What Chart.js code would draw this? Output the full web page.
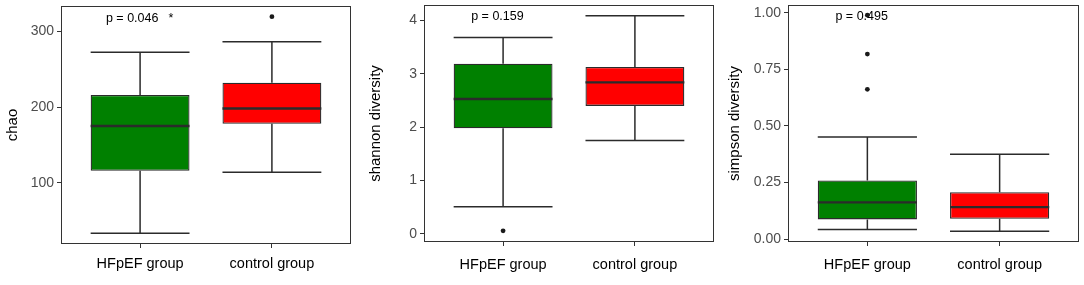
<!DOCTYPE html>
<html>
<head>
<meta charset="utf-8">
<script src="https://cdn.jsdelivr.net/npm/chart.js@4"></script>
<style>
    body { margin: 0; background: #fff; width: 1084px; height: 285px; position: relative; overflow: hidden; }
    canvas { position: absolute; top: 0; }
</style>
</head>
<body>
<canvas id="chaoChart" width="355" height="285" style="left:0px"></canvas>
<canvas id="shannonChart" width="358" height="285" style="left:360px"></canvas>
<canvas id="simpsonChart" width="364" height="285" style="left:720px"></canvas>
<script>
const groups = ['HFpEF group', 'control group'];
const boxColors = ['#008000', '#ff0000'];

// chao
const chaoMin = [34, 114];
const chaoQ1 = [116, 178];
const chaoMedian = [175, 198];
const chaoQ3 = [216, 232];
const chaoMax = [272, 286];
const chaoOutliers = [[], [319]];
const chaoTicks = [100, 200, 300];

// shannon diversity
const shannonMin = [0.51, 1.75];
const shannonQ1 = [1.98, 2.40];
const shannonMedian = [2.53, 2.84];
const shannonQ3 = [3.19, 3.13];
const shannonMax = [3.68, 4.09];
const shannonOutliers = [[0.06], []];
const shannonTicks = [0, 1, 2, 3, 4];

// simpson diversity
const simpsonMin = [0.042, 0.034];
const simpsonQ1 = [0.087, 0.090];
const simpsonMedian = [0.162, 0.141];
const simpsonQ3 = [0.259, 0.207];
const simpsonMax = [0.451, 0.375];
const simpsonOutliers = [[0.99, 0.818, 0.662], []];
const simpsonTicks = [0, 0.25, 0.5, 0.75, 1];

const groupTicks = [1, 2];
const lineColor = '#2b2b2b';

const boxPartsPlugin = {
    id: 'boxParts',
    beforeDatasetsDraw(chart, args, opts) {
        const { ctx, scales: { x, y } } = chart;
        ctx.save();
        ctx.fillStyle = '#000';
        ctx.font = '12.5px "Liberation Sans", Arial, sans-serif';
        ctx.textAlign = 'center';
        ctx.textBaseline = 'middle';
        opts.notes.forEach(n => {
            ctx.fillText(n.text, x.getPixelForValue(n.x), y.getPixelForValue(n.y));
        });
        ctx.restore();
    },
    afterDatasetsDraw(chart, args, opts) {
        const { ctx, scales: { x, y } } = chart;
        const s = opts.stats;
        ctx.save();
        ctx.strokeStyle = lineColor;
        s.median.forEach((m, i) => {
            const cx = x.getPixelForValue(i + 1);
            const x0 = x.getPixelForValue(i + 1 - 0.375);
            const x1 = x.getPixelForValue(i + 1 + 0.375);
            const yMax = y.getPixelForValue(s.max[i]);
            const yMin = y.getPixelForValue(s.min[i]);

            // whiskers
            ctx.lineWidth = 1.5;
            ctx.beginPath();
            ctx.moveTo(cx, y.getPixelForValue(s.q3[i]));
            ctx.lineTo(cx, yMax);
            ctx.moveTo(x0, yMax);
            ctx.lineTo(x1, yMax);
            ctx.moveTo(cx, y.getPixelForValue(s.q1[i]));
            ctx.lineTo(cx, yMin);
            ctx.moveTo(x0, yMin);
            ctx.lineTo(x1, yMin);
            ctx.stroke();

            // median
            ctx.lineWidth = 2.4;
            ctx.beginPath();
            ctx.moveTo(x0, y.getPixelForValue(m));
            ctx.lineTo(x1, y.getPixelForValue(m));
            ctx.stroke();
        });
        ctx.restore();
    },
    afterDraw(chart) {
        const { ctx, chartArea: a } = chart;
        ctx.save();
        ctx.strokeStyle = '#333';
        ctx.lineWidth = 1;
        ctx.strokeRect(a.left + 0.5, a.top + 0.5, a.right - a.left - 1, a.bottom - a.top - 1);
        ctx.restore();
    }
};

function makeBoxChart(canvasId, stats, lay) {
    const ctx = document.getElementById(canvasId).getContext('2d');
    const boxData = groups.map((g, i) => ({ x: i + 1, y: [stats.q1[i], stats.q3[i]] }));
    const outlierData = [];
    stats.outliers.forEach((arr, i) => arr.forEach(v => outlierData.push({ x: i + 1, y: v })));

    return new Chart(ctx, {
        type: 'bar',
        data: {
            datasets: [
                {
                    type: 'scatter',
                    data: outlierData,
                    pointRadius: 2.4,
                    pointBackgroundColor: '#1a1a1a',
                    pointBorderWidth: 0
                },
                {
                    data: boxData,
                    backgroundColor: boxColors,
                    borderColor: lineColor,
                    borderWidth: 1.3,
                    borderSkipped: false,
                    categoryPercentage: 1,
                    barPercentage: 0.75
                }
            ]
        },
        options: {
            responsive: false,
            animation: false,
            devicePixelRatio: 1,
            layout: { padding: { top: lay.top, right: lay.right, left: 0, bottom: 0 } },
            plugins: {
                legend: { display: false },
                tooltip: { enabled: false },
                boxParts: { stats: stats, notes: lay.notes }
            },
            scales: {
                x: {
                    type: 'linear',
                    min: 0.4,
                    max: 2.6,
                    offset: false,
                    afterBuildTicks: function(scale) {
                        scale.ticks = groupTicks.map(v => ({ value: v }));
                    },
                    afterFit: function(scale) {
                        scale.height = lay.xHeight;
                        scale.paddingLeft = 0;
                        scale.paddingRight = 0;
                    },
                    border: { display: false },
                    grid: { offset: false, drawOnChartArea: false, drawTicks: true, tickLength: 4, color: '#333' },
                    ticks: {
                        padding: lay.xPad,
                        color: '#000',
                        font: { family: '"Liberation Sans", Arial, sans-serif', size: 14.5 },
                        callback: function(value) {
                            return groups[value - 1];
                        }
                    }
                },
                y: {
                    min: lay.yMin,
                    max: lay.yMax,
                    afterBuildTicks: function(scale) {
                        scale.ticks = lay.ticks.map(v => ({ value: v }));
                    },
                    afterFit: function(scale) {
                        scale.width = lay.yWidth;
                        scale.paddingTop = 0;
                        scale.paddingBottom = 0;
                    },
                    border: { display: false },
                    grid: { drawOnChartArea: false, drawTicks: true, tickLength: 4, color: '#333' },
                    title: {
                        display: true,
                        text: lay.title,
                        color: '#000',
                        padding: { top: lay.titlePad, bottom: 0 },
                        font: { family: '"Liberation Sans", Arial, sans-serif', size: 15 }
                    },
                    ticks: {
                        padding: 3,
                        color: '#4d4d4d',
                        font: { family: '"Liberation Sans", Arial, sans-serif', size: 14 },
                        callback: function(value) {
                            return lay.decimals ? value.toFixed(lay.decimals) : String(value);
                        }
                    }
                }
            }
        },
        plugins: [boxPartsPlugin]
    });
}

makeBoxChart('chaoChart',
    { min: chaoMin, q1: chaoQ1, median: chaoMedian, q3: chaoQ3, max: chaoMax, outliers: chaoOutliers },
    {
        title: 'chao', ticks: chaoTicks, yMin: 19.7, yMax: 333, decimals: 0,
        top: 6, right: 4, yWidth: 61, xHeight: 41, xPad: 7, titlePad: 4,
        notes: [{ text: 'p = 0.046', x: 0.94, y: 317 }, { text: '*', x: 1.234, y: 317 }]
    });

makeBoxChart('shannonChart',
    { min: shannonMin, q1: shannonQ1, median: shannonMedian, q3: shannonQ3, max: shannonMax, outliers: shannonOutliers },
    {
        title: 'shannon diversity', ticks: shannonTicks, yMin: -0.15, yMax: 4.29, decimals: 0,
        top: 5, right: 4, yWidth: 64, xHeight: 43, xPad: 10, titlePad: 7,
        notes: [{ text: 'p = 0.159', x: 0.957, y: 4.075 }]
    });

makeBoxChart('simpsonChart',
    { min: simpsonMin, q1: simpsonQ1, median: simpsonMedian, q3: simpsonQ3, max: simpsonMax, outliers: simpsonOutliers },
    {
        title: 'simpson diversity', ticks: simpsonTicks, yMin: -0.013, yMax: 1.035, decimals: 2,
        top: 5, right: 5, yWidth: 68, xHeight: 43, xPad: 10, titlePad: 6,
        notes: [{ text: 'p = 0.495', x: 0.957, y: 0.985 }]
    });
</script>
</body>
</html>
